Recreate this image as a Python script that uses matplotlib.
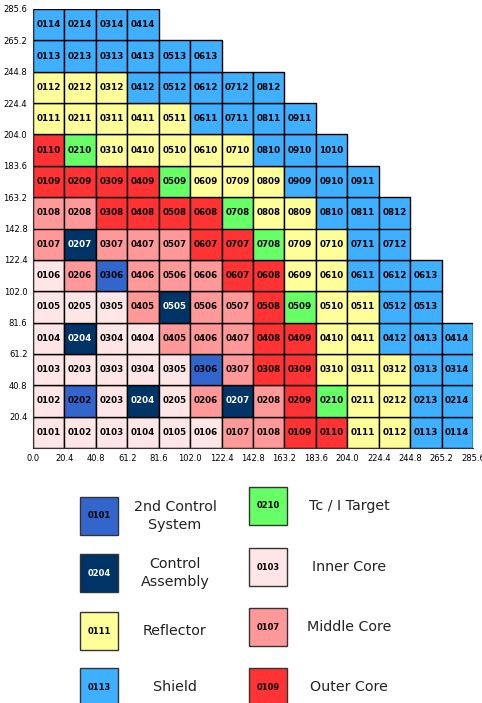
import matplotlib
matplotlib.use("Agg")
import matplotlib.pyplot as plt

# assembly ids per row, bottom row first
rows = [
    ["0101", "0102", "0103", "0104", "0105", "0106", "0107", "0108", "0109", "0110", "0111", "0112", "0113", "0114"],
    ["0102", "0202", "0203", "0204", "0205", "0206", "0207", "0208", "0209", "0210", "0211", "0212", "0213", "0214"],
    ["0103", "0203", "0303", "0304", "0305", "0306", "0307", "0308", "0309", "0310", "0311", "0312", "0313", "0314"],
    ["0104", "0204", "0304", "0404", "0405", "0406", "0407", "0408", "0409", "0410", "0411", "0412", "0413", "0414"],
    ["0105", "0205", "0305", "0405", "0505", "0506", "0507", "0508", "0509", "0510", "0511", "0512", "0513"],
    ["0106", "0206", "0306", "0406", "0506", "0606", "0607", "0608", "0609", "0610", "0611", "0612", "0613"],
    ["0107", "0207", "0307", "0407", "0507", "0607", "0707", "0708", "0709", "0710", "0711", "0712"],
    ["0108", "0208", "0308", "0408", "0508", "0608", "0708", "0808", "0809", "0810", "0811", "0812"],
    ["0109", "0209", "0309", "0409", "0509", "0609", "0709", "0809", "0909", "0910", "0911"],
    ["0110", "0210", "0310", "0410", "0510", "0610", "0710", "0810", "0910", "1010"],
    ["0111", "0211", "0311", "0411", "0511", "0611", "0711", "0811", "0911"],
    ["0112", "0212", "0312", "0412", "0512", "0612", "0712", "0812"],
    ["0113", "0213", "0313", "0413", "0513", "0613"],
    ["0114", "0214", "0314", "0414"],
]
# region code per cell, same layout as rows
kinds = [
    "IIIIIIMMOORRSS",
    "IBICIMCMOTRRSS",
    "IIIIIBMOORRRSS",
    "ICIIMMMOORRSSS",
    "IIIMCMMOTRRSS",
    "IMBMMMOORRSSS",
    "MCMMMOOTRRSS",
    "MMOOOOTRRSSS",
    "OOOOTRRRSSS",
    "OTRRRRRSSS",
    "RRRRRSSSS",
    "RRRSSSSS",
    "SSSSSS",
    "SSSS",
]

pitch = 20.4
colors = {
    "B": "#3366cc", "C": "#003366", "R": "#ffff99", "S": "#3fb0ff",
    "T": "#66ff66", "I": "#ffe6e6", "M": "#ff9999", "O": "#ff3333",
}
legend_left = [("B", "0101", "2nd Control\nSystem"), ("C", "0204", "Control\nAssembly"),
               ("R", "0111", "Reflector"), ("S", "0113", "Shield")]
legend_right = [("T", "0210", "Tc / I Target"), ("I", "0103", "Inner Core"),
                ("M", "0107", "Middle Core"), ("O", "0109", "Outer Core")]

fig = plt.figure(figsize=(4.82, 7.03), dpi=100)
ax = fig.add_axes([33 / 482, 1 - 448 / 703, 440 / 482, 439 / 703])

for j, (labs, ks) in enumerate(zip(rows, kinds)):
    for i, (lab, k) in enumerate(zip(labs, ks)):
        x, y = i * pitch, j * pitch
        ax.bar(x, pitch, width=pitch, bottom=y, align="edge",
               color=colors[k], edgecolor="black", linewidth=1.0)
        ax.text(x + pitch / 2, y + pitch / 2, lab, ha="center", va="center",
                fontsize=6.3, fontweight="bold",
                color="white" if k == "C" else "black")

ticks = [i * pitch for i in range(15)]
ax.set_xlim(0, 14 * pitch)
ax.set_ylim(0, 14 * pitch)
ax.set_xticks(ticks)
ax.set_yticks(ticks[1:])
ax.set_xticklabels([f"{t:.1f}" for t in ticks], fontsize=6)
ax.set_yticklabels([f"{t:.1f}" for t in ticks[1:]], fontsize=6)
ax.tick_params(length=0, pad=4)
for s in ["top", "right"]:
    ax.spines[s].set_visible(False)
for s in ["left", "bottom"]:
    ax.spines[s].set_color("#333333")

# legend drawn in pixel coordinates
lg = fig.add_axes([0, 0, 1, 1 - 470 / 703])
lg.set_xlim(0, 482)
lg.set_ylim(703, 470)
lg.axis("off")

def draw_key(x0, y0, k, code, text, tx):
    lg.add_patch(plt.Rectangle((x0, y0), 38, 38, facecolor=colors[k],
                               edgecolor="#333333", linewidth=1.0))
    lg.text(x0 + 19, y0 + 19, code, ha="center", va="center", fontsize=6,
            fontweight="bold", color="white" if k == "C" else "black")
    lg.text(tx, y0 + 19, text, ha="center", va="center", fontsize=10.3,
            color="#222222", linespacing=1.35)

for (k, code, text), y0 in zip(legend_left, [497, 554, 612, 668]):
    draw_key(80, y0, k, code, text, 175)
for (k, code, text), y0 in zip(legend_right, [487, 548, 608, 668]):
    draw_key(249, y0, k, code, text, 349)

fig.savefig("out.png", dpi=100)
